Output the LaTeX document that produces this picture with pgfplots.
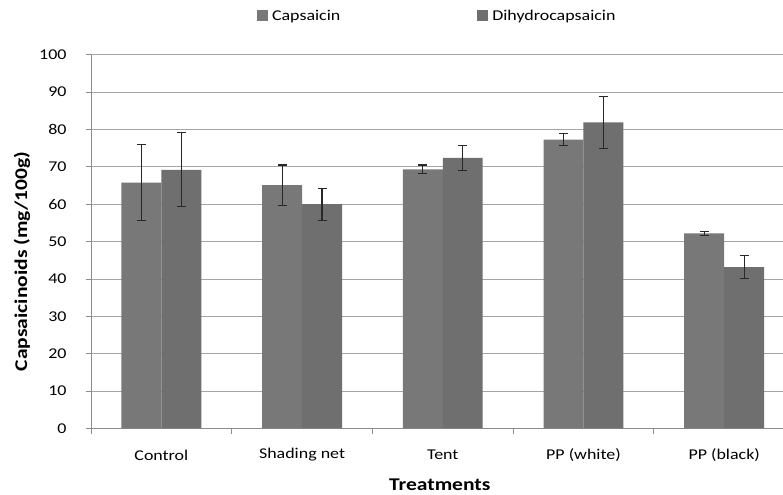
\documentclass[border=0pt]{standalone}
\usepackage{pgfplots}
\pgfplotsset{compat=1.18}
\usepackage{fontspec}
\setmainfont{Carlito}[FakeStretch=1.2]
\definecolor{capcol}{RGB}{120,120,120}
\definecolor{dihcol}{RGB}{111,111,111}
\definecolor{gridcol}{RGB}{165,165,165}
\definecolor{axcol}{RGB}{140,140,140}
\definecolor{errcol}{RGB}{40,40,40}
\begin{document}
\begin{tikzpicture}
\useasboundingbox (-91bp,-66.5bp) rectangle (692bp,428.5bp);
\begin{axis}[
  at={(0,0)}, anchor=south west,
  scale only axis, width=692bp, height=373.8bp,
  xmin=-0.5, xmax=4.418, ymin=0, ymax=100,
  axis x line=bottom, axis y line=left,
  axis line style={-, draw=axcol, line width=0.9bp},
  ybar=0pt, bar width=0.284,
  ytick={0,10,...,100},
  ymajorgrids, grid style={draw=gridcol, line width=0.9bp},
  tick align=outside, major tick length=5bp,
  tick style={draw=axcol, line width=0.9bp},
  xtick={-0.5,0.5,1.5,2.5,3.5}, xticklabels={},
  extra x ticks={0,1,2,3,4},
  extra x tick labels={Control, Shading net, Tent, PP (white), PP (black)},
  extra x tick style={major tick length=0pt, grid=none,
    xticklabel style={anchor=center, yshift=-26.5bp}},
  /pgf/number format/assume math mode=true,
  tick label style={font=\fontsize{15}{18}\selectfont, text=black},
  yticklabel style={anchor=east, xshift=-16bp},
  ylabel={\bfseries Capsaicinoids (mg/100g)},
  ylabel style={font=\fontsize{18}{21}\selectfont, at={(axis description cs:-0.0997,0.447)}, anchor=center},
  xlabel={\bfseries Treatments},
  xlabel style={font=\fontsize{18}{21}\selectfont, at={(axis description cs:0.504,-0.1511)}, anchor=center},
  legend columns=2,
  legend style={draw=none, fill=none, at={(axis description cs:0.2399,1.1036)}, anchor=west,
    font=\fontsize{15}{18}\selectfont, inner sep=0pt, outer sep=0pt,
    nodes={inner sep=0pt},
    column sep=4bp,
    /tikz/every even column/.append style={column sep=137bp}},
  error bars/y dir=both, error bars/y explicit,
  error bars/error bar style={draw=errcol, line width=1.1bp},
  error bars/error mark options={rotate=90, mark size=4.5bp, draw=errcol, line width=1.1bp},
]
\addplot[fill=capcol, draw=none,
  legend image code/.code={\fill[capcol] (0bp,-5.5bp) rectangle (11bp,5.5bp);}]
  coordinates {(0,65.8) +- (0,10.1) (1,65.1) +- (0,5.4) (2,69.3) +- (0,1.2) (3,77.3) +- (0,1.7) (4,52.2) +- (0,0.5)};
\addlegendentry{Capsaicin}
\addplot[fill=dihcol, draw=none,
  legend image code/.code={\fill[dihcol] (0bp,-5.5bp) rectangle (11bp,5.5bp);}]
  coordinates {(0,69.2) +- (0,9.9) (1,60.0) +- (0,4.3) (2,72.4) +- (0,3.3) (3,81.9) +- (0,7.0) (4,43.2) +- (0,3.0)};
\addlegendentry{Dihydrocapsaicin}
\end{axis}
\end{tikzpicture}
\end{document}
